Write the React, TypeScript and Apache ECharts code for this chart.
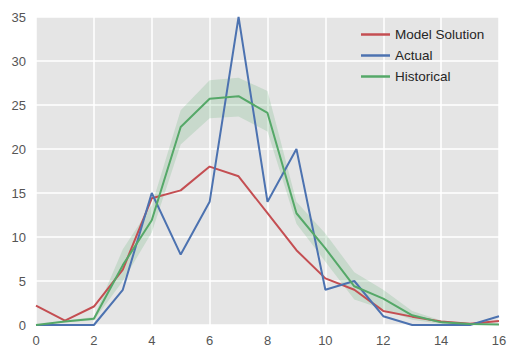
import React, { useEffect, useRef } from "react";
import * as echarts from "echarts";

const xs = [0, 1, 2, 3, 4, 5, 6, 7, 8, 9, 10, 11, 12, 13, 14, 15, 16];
const modelSolution = [2.2, 0.5, 2.1, 6.3, 14.4, 15.3, 18.0, 16.9, 12.7, 8.5, 5.3, 4.0, 1.6, 0.95, 0.4, 0.15, 0.45];
const actual = [0, 0, 0, 4, 15, 8, 14, 35, 14, 20, 4, 5, 1, 0, 0, 0, 1];
const historical = [0, 0.4, 0.7, 6.8, 11.9, 22.5, 25.7, 26.0, 24.1, 12.7, 8.7, 4.4, 3.0, 1.1, 0.3, 0.1, 0.05];
const historicalLow = [0, 0.3, 0.5, 5.0, 10.5, 20.5, 23.5, 23.7, 22.0, 11.5, 7.2, 2.9, 1.8, 0.6, 0.1, 0.0, 0.0];
const historicalHigh = [0, 0.5, 0.9, 8.6, 13.6, 24.4, 27.8, 28.1, 26.6, 14.0, 10.4, 6.0, 4.0, 1.6, 0.5, 0.2, 0.1];
const xTicks = { min: 0, max: 16, interval: 2 };
const yTicks = { min: 0, max: 35, interval: 5 };
const seriesNames = ["Model Solution", "Actual", "Historical"];

const RED = "#C44E52";
const BLUE = "#4C72B0";
const GREEN = "#55A868";

export default function App() {
  const ref = useRef<HTMLDivElement>(null);
  useEffect(() => {
    if (!ref.current) return;
    const chart = echarts.init(ref.current, undefined, { renderer: "svg" });
    const pts = (arr: number[]) => xs.map((x, i) => [x, arr[i]]);
    const lineSeries = (name: string, arr: number[], color: string, z: number) => ({
      name,
      type: "line",
      data: pts(arr),
      showSymbol: false,
      symbol: "none",
      lineStyle: { color, width: 2 },
      itemStyle: { color },
      z,
    });
    const bandData = xs.map((x, i) => [x, historicalLow[i], historicalHigh[i]]);
    chart.setOption({
      animation: false,
      backgroundColor: "#ffffff",
      textStyle: { fontFamily: "Liberation Sans, Arial, sans-serif" },
      grid: {
        left: 36,
        right: 18,
        top: 17,
        bottom: 35,
        show: true,
        backgroundColor: "#E5E5E5",
        borderWidth: 0,
      },
      xAxis: {
        type: "value",
        min: xTicks.min,
        max: xTicks.max,
        interval: xTicks.interval,
        axisLine: { show: false },
        axisTick: { show: false },
        axisLabel: { color: "#555555", fontSize: 13, margin: 9 },
        splitLine: { show: true, lineStyle: { color: "#ffffff", width: 1.5 } },
      },
      yAxis: {
        type: "value",
        min: yTicks.min,
        max: yTicks.max,
        interval: yTicks.interval,
        axisLine: { show: false },
        axisTick: { show: false },
        axisLabel: { color: "#555555", fontSize: 13, margin: 10 },
        splitLine: { show: true, lineStyle: { color: "#ffffff", width: 1.5 } },
      },
      legend: {
        data: seriesNames,
        orient: "vertical",
        left: 356,
        top: 22,
        icon: "rect",
        itemWidth: 29,
        itemHeight: 2.5,
        itemGap: 6,
        itemTextGap: 11,
        textStyle: { color: "#262626", fontSize: 13.5, lineHeight: 15 },
      },
      series: [
        {
          name: "band",
          type: "custom",
          data: bandData,
          silent: true,
          z: 1,
          encode: { x: 0, y: [1, 2] },
          renderItem: (params: any, api: any) => {
            if (params.dataIndex !== 0) return null;
            const upper = bandData.map((d) => api.coord([d[0], d[2]]));
            const lower = bandData.map((d) => api.coord([d[0], d[1]])).reverse();
            return {
              type: "polygon",
              shape: { points: upper.concat(lower) },
              style: { fill: GREEN, opacity: 0.2 },
            };
          },
        },
        lineSeries("Model Solution", modelSolution, RED, 3),
        lineSeries("Actual", actual, BLUE, 4),
        lineSeries("Historical", historical, GREEN, 5),
      ],
    });
    return () => chart.dispose();
  }, []);
  return <div ref={ref} style={{ width: 517, height: 360, position: "absolute", left: 0, top: 0 }} />;
}
